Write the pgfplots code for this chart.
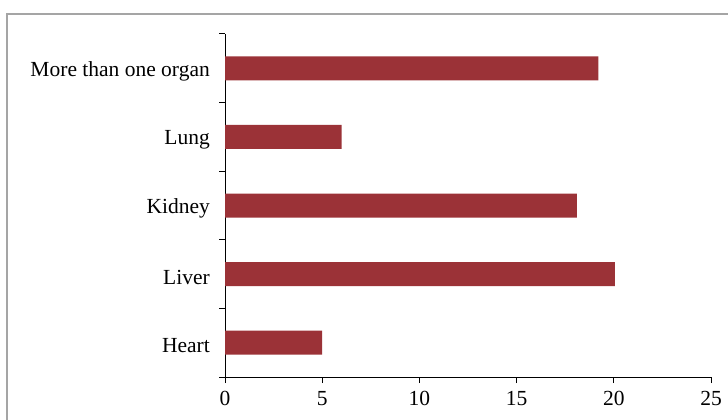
\documentclass[border=0pt]{standalone}
\usepackage{fontspec}
\setmainfont{Liberation Serif}
\usepackage{pgfplots}
\pgfplotsset{compat=1.18}
\definecolor{barred}{RGB}{155,50,55}
\definecolor{framegray}{RGB}{165,165,165}
\begin{document}
\fontsize{21.5bp}{25bp}\selectfont
\begin{tikzpicture}[x=1bp,y=1bp]
\path[use as bounding box] (0,0) rectangle (728,419);
\draw[framegray, line width=1.5bp] (7,-5) -- (7,405) -- (735,405);
\begin{axis}[
  at={(225bp,42bp)}, anchor=south west,
  scale only axis, width=486bp, height=343bp,
  xmin=0, xmax=25, ymin=-0.5, ymax=4.5,
  axis x line*=bottom, axis y line*=left,
  axis line style={line width=1bp, black, -},
  xtick={0,5,...,25},
  ytick={0,...,4},
  yticklabels={Heart,Liver,Kidney,Lung,More than one organ},
  minor ytick={-0.5,0.5,...,4.5},
  tick align=outside,
  major tick length=6bp, minor tick length=6bp,
  major y tick style={draw=none},
  minor y tick style={line width=1bp, black},
  major x tick style={line width=1bp, black},
  /pgf/number format/assume math mode=true,
  ticklabel style={font=\fontsize{21.5bp}{25bp}\selectfont},
  yticklabel style={anchor=east, inner sep=0pt, xshift=-9bp, yshift=-3bp},
  xticklabel style={anchor=north, inner sep=0pt, yshift=-8bp},
  clip=false,
]
\addplot[xbar, bar width=24bp, fill=barred, draw=none] coordinates {(5,0) (20.05,1) (18.1,2) (6,3) (19.2,4)};
\end{axis}
\end{tikzpicture}
\end{document}
